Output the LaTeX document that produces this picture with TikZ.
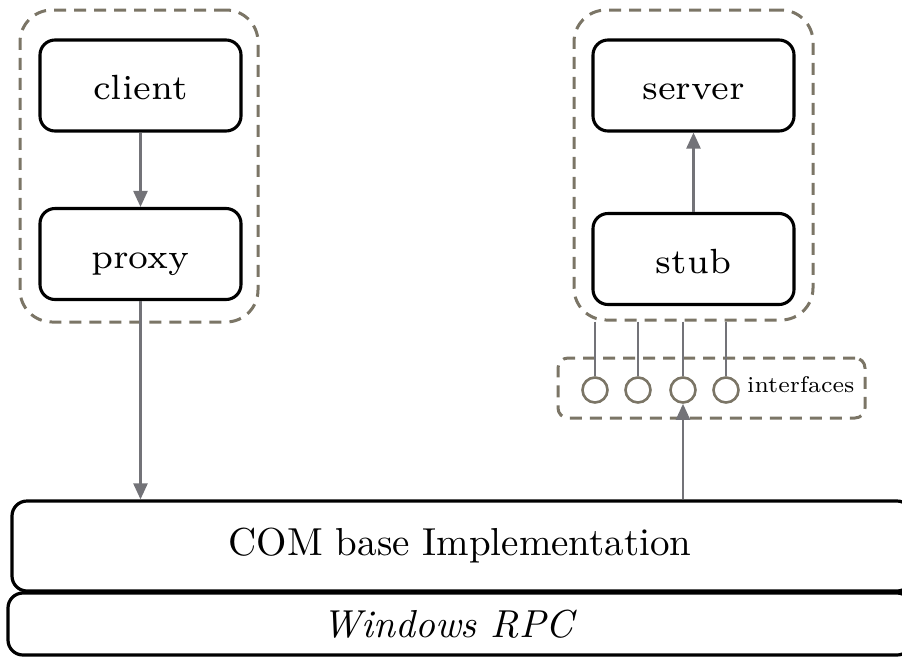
\documentclass[tikz,border=0pt]{standalone}
\usepackage{graphicx}
\usetikzlibrary{arrows.meta}

\definecolor{grpline}{RGB}{123,117,102}
\definecolor{arrowgray}{RGB}{115,115,120}

% text in the small optical size of Latin Modern, enlarged
\newcommand\boxlabel[1]{\scalebox{5}{\fontsize{7}{8.4}\selectfont #1}}
\newcommand\baselabel[1]{\scalebox{3.9}{\fontsize{10}{12}\selectfont #1}}
\newcommand\tinylabel[1]{\scalebox{3.25}{\fontsize{7}{8.4}\selectfont #1}}

\tikzset{
  compbox/.style={draw=black, line width=3.1pt, rounded corners=15pt,
    minimum width=201pt, minimum height=91pt, inner sep=0pt,
    text height=28pt, text depth=0pt},
  layerbox/.style={draw=black, line width=3.2pt, rounded corners=15pt,
    inner sep=0pt},
  group/.style={draw=grpline, line width=3pt, dash pattern=on 12pt off 8pt,
    rounded corners=32pt, inner sep=0pt},
  iface/.style={circle, draw=grpline, line width=2.6pt, minimum size=25pt,
    inner sep=0pt},
  flow/.style={draw=arrowgray, line width=2.4pt,
    -{Triangle[width=14pt,length=16pt]}},
  stem/.style={draw=arrowgray, line width=1.8pt},
}

\begin{document}
\begin{tikzpicture}[x=1pt, y=-1pt]
\useasboundingbox (0,0) rectangle (902,657);

% client side
\node[group, minimum width=238pt, minimum height=312pt] (cgrp) at (139,166) {};
\node[compbox] (client) at (140.5,85.5) {\boxlabel{client}};
\node[compbox] (proxy) at (140.5,254) {\boxlabel{proxy}};

% server side
\node[group, minimum width=239pt, minimum height=310pt] (sgrp) at (693.5,165) {};
\node[compbox] (server) at (693.5,85.5) {\boxlabel{server}};
\node[compbox] (stub) at (693.5,259) {\boxlabel{stub}};

% interfaces
\node[group, rounded corners=10pt, minimum width=307pt, minimum height=60pt] (igrp) at (711.5,388) {};
\node[iface] (i1) at (595,390) {};
\node[iface] (i2) at (638,390) {};
\node[iface] (i3) at (683,390) {};
\node[iface] (i4) at (726,390) {};
\node[anchor=base west, inner sep=0pt] (ilabel) at (747,392) {\tinylabel{interfaces}};

% layers
\node[layerbox, minimum width=900pt, minimum height=90pt] (com) at (462,546) {};
\node (comtext) at (460,546) {\baselabel{COM base Implementation}};
\node[layerbox, minimum width=904pt, minimum height=62pt] (rpc) at (460,624) {};
\node (rpctext) at (448,624) {\baselabel{\itshape Windows RPC}};

% connectors
\draw[flow] (client.south) -- (proxy.north);
\draw[flow] (stub.north) -- (server.south);
\draw[flow] (proxy.south) -- (proxy.south |- com.north);
\draw[flow] (i3.south |- com.north) -- (i3.south);
\foreach \i in {i1,i2,i3,i4}
  \draw[stem] (\i.north |- sgrp.south) -- (\i.north);
\end{tikzpicture}
\end{document}
